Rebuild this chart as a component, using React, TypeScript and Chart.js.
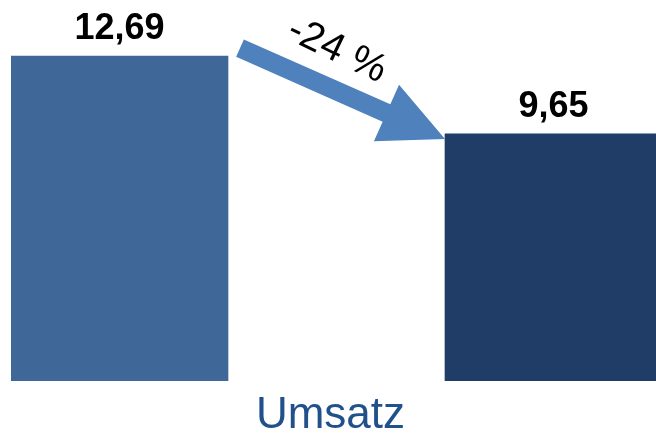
import React, { useEffect, useRef } from "react";
import { Chart, registerables } from "chart.js";

Chart.register(...registerables);

const categories = ["Vorher", "", "Nachher"];
const values: (number | null)[] = [12.69, null, 9.65];
const valueLabels = ["12,69", "", "9,65"];
const barColors = ["#3F6899", "rgba(0,0,0,0)", "#1F3D66"];
const changeLabel = "-24 %";
const axisTitle = "Umsatz";

const overlayPlugin = {
  id: "overlay",
  afterDatasetsDraw(chart: any) {
    const ctx = chart.ctx;
    const meta = chart.getDatasetMeta(0);
    const b1 = meta.data[0];
    const b2 = meta.data[2];
    ctx.save();
    // value labels
    ctx.fillStyle = "#000";
    ctx.font = "bold 36px 'Liberation Sans', Arial, sans-serif";
    ctx.textAlign = "center";
    ctx.textBaseline = "alphabetic";
    [0, 2].forEach((i) => {
      const el = meta.data[i];
      ctx.fillText(valueLabels[i], el.x, el.y - 17);
    });
    // arrow
    const tx = b1.x + b1.width / 2 + 12;
    const ty = b1.y - 8;
    const hx = b2.x - b2.width / 2;
    const hy = b2.y + 5;
    const dx = hx - tx;
    const dy = hy - ty;
    const L = Math.sqrt(dx * dx + dy * dy);
    const ux = dx / L;
    const uy = dy / L;
    const nx = -uy;
    const ny = ux;
    const sw = 9.5;
    const hw = 31;
    const hl = 64;
    const bx = hx - ux * hl;
    const by = hy - uy * hl;
    ctx.fillStyle = "#4F81BD";
    ctx.beginPath();
    ctx.moveTo(tx + nx * sw, ty + ny * sw);
    ctx.lineTo(bx + nx * sw, by + ny * sw);
    ctx.lineTo(bx + nx * hw, by + ny * hw);
    ctx.lineTo(hx, hy);
    ctx.lineTo(bx - nx * hw, by - ny * hw);
    ctx.lineTo(bx - nx * sw, by - ny * sw);
    ctx.lineTo(tx - nx * sw, ty - ny * sw);
    ctx.closePath();
    ctx.fill();
    // change label
    const ang = Math.atan2(dy, dx) + 0.03;
    const cx = tx + dx * 0.4 + nx * -37;
    const cy = ty + dy * 0.4 + ny * -37;
    ctx.translate(cx, cy);
    ctx.rotate(ang);
    ctx.fillStyle = "#000";
    ctx.font = "40px 'Liberation Sans', Arial, sans-serif";
    ctx.textAlign = "center";
    ctx.textBaseline = "middle";
    ctx.fillText(changeLabel, 0, 0);
    ctx.restore();
    // axis title
    ctx.save();
    const area = chart.chartArea;
    ctx.fillStyle = "#21518A";
    ctx.font = "44px 'Liberation Sans', Arial, sans-serif";
    ctx.textAlign = "center";
    ctx.textBaseline = "alphabetic";
    ctx.fillText(axisTitle, 330.5, area.bottom + 47);
    ctx.restore();
  },
};

export default function App() {
  const ref = useRef<HTMLCanvasElement>(null);
  useEffect(() => {
    document.body.style.margin = "0";
    document.body.style.overflow = "hidden";
    const chart = new Chart(ref.current!, {
      type: "bar",
      data: {
        labels: categories,
        datasets: [
          {
            data: values,
            backgroundColor: barColors,
            barPercentage: 1,
            categoryPercentage: 1,
          },
        ],
      },
      options: {
        animation: false,
        responsive: false,
        layout: { padding: { left: 11, right: 0, top: 0, bottom: 55 } },
        plugins: { legend: { display: false }, tooltip: { enabled: false } },
        scales: {
          x: { display: false },
          y: { display: false, min: 0, max: 14.88 },
        },
      },
      plugins: [overlayPlugin],
    });
    return () => chart.destroy();
  }, []);
  return (
    <div style={{ position: "absolute", left: 0, top: 0, width: 656, height: 436, overflow: "hidden", background: "#fff" }}>
      <canvas ref={ref} width={662} height={436} style={{ display: "block" }} />
    </div>
  );
}
